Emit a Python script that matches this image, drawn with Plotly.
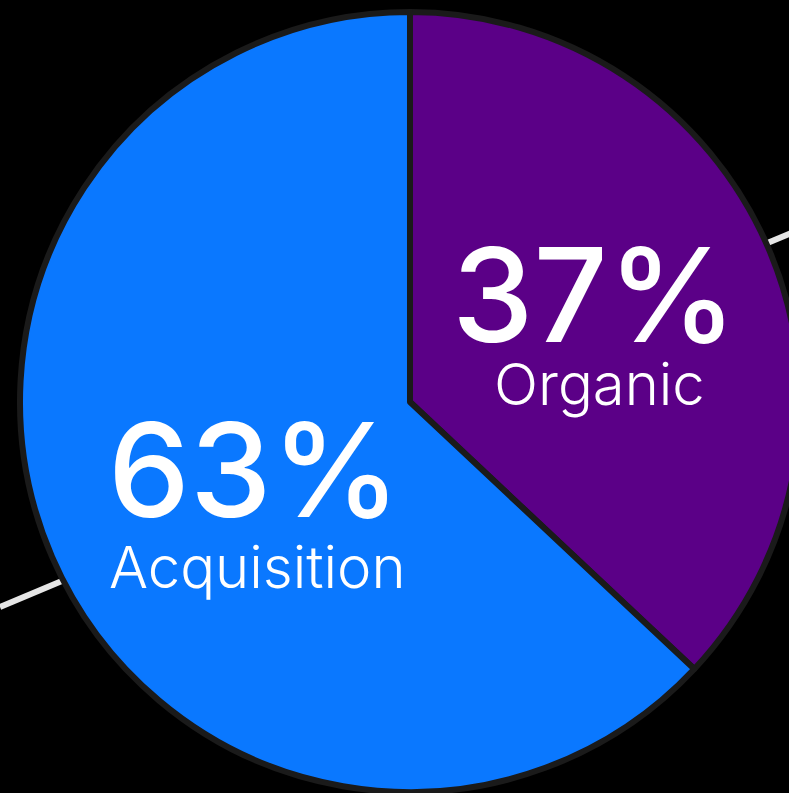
import plotly.graph_objects as go

# slice data
labels = ["Organic", "Acquisition"]
values = [37, 63]
slice_colors = ["#5b0087", "#0a78ff"]

# the pie runs past the right edge of the view, so the figure is a bit wider
W, H = 820, 793


def px_x(x):
    return x / W


def px_y(y):
    # pixel row from the top -> paper coordinate
    return 1 - y / H


fig = go.Figure()

fig.add_trace(go.Pie(
    labels=labels,
    values=values,
    sort=False,
    direction="clockwise",
    rotation=0,
    textinfo="none",
    hoverinfo="label+percent",
    showlegend=False,
    marker=dict(colors=slice_colors, line=dict(color="#1a1a1a", width=6)),
    domain=dict(x=[px_x(20), px_x(800)], y=[px_y(792), px_y(12)]),
))

# decorative light lines running behind the pie
line_style = dict(color="#e6e6e6", width=6)
fig.add_shape(type="line", xref="paper", yref="paper", layer="below",
              x0=px_x(0), y0=px_y(607), x1=px_x(200), y1=px_y(523), line=line_style)
fig.add_shape(type="line", xref="paper", yref="paper", layer="below",
              x0=px_x(600), y0=px_y(313), x1=px_x(820), y1=px_y(221), line=line_style)

num_font = dict(family="Inter", size=130, color="white", weight=500)
lab_font = dict(family="Inter", size=58, color="white", weight=300)

# big percentage over a light label, placed by hand inside each slice
pct = [f"{v}%" for v in values]
texts = [
    (pct[0], 594, 294, num_font),
    (labels[0], 599, 384, lab_font),
    (pct[1], 254, 470, num_font),
    (labels[1], 257, 567, lab_font),
]
for txt, x, y, font in texts:
    fig.add_annotation(text=txt, x=px_x(x), y=px_y(y), xref="paper", yref="paper",
                       xanchor="center", yanchor="middle", showarrow=False, font=font)

fig.update_layout(
    width=W,
    height=H,
    margin=dict(l=0, r=0, t=0, b=0),
    paper_bgcolor="black",
    plot_bgcolor="black",
)

fig.write_html(
    "out.html",
    config={"displayModeBar": False},
    post_script="document.body.style.margin='0';document.body.style.overflow='hidden';"
                "document.documentElement.style.overflow='hidden';"
                "document.body.style.background='black';",
)
